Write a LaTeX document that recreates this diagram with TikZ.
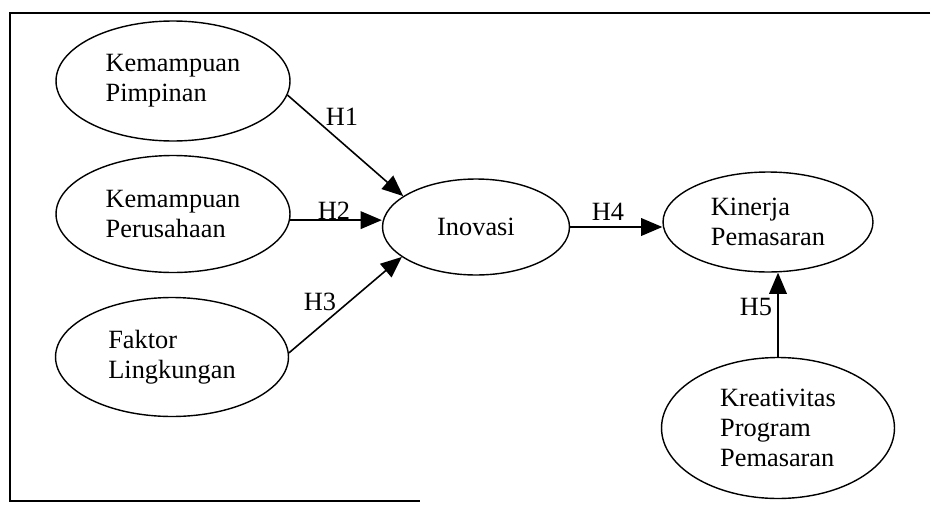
\documentclass[tikz,border=0pt]{standalone}
\usepackage{fontspec}
\setmainfont{Liberation Serif}
\usetikzlibrary{shapes.geometric, arrows.meta}

\begin{document}
\begin{tikzpicture}[x=0.02cm, y=-0.02cm,
    var/.style={ellipse, draw=black, line width=0.8pt, align=left, inner sep=0pt,
      font=\fontsize{15}{17}\selectfont},
    hyp/.style={inner sep=0pt, font=\fontsize{15}{17}\selectfont},
    arr/.style={line width=0.9pt, -{Triangle[length=12pt, width=10pt]}}]
  \useasboundingbox (0,0) rectangle (933,504);

  % Frame
  \draw[line width=0.8pt] (930,13) -- (10,13) -- (10,501) -- (420,501);

  % Independent variables
  \node[var, minimum width=4.68cm, minimum height=2.4cm] (pimpinan) at (173,81) {Kemampuan\\Pimpinan};
  \node[var, minimum width=4.68cm, minimum height=2.34cm] (perusahaan) at (173,214) {Kemampuan\\Perusahaan};
  \node[var, minimum width=4.66cm, minimum height=2.38cm] (lingkungan) at (172,357) {Faktor\\Lingkungan};

  % Mediating and dependent variables
  \node[var, minimum width=3.74cm, minimum height=1.92cm] (inovasi) at (476,227) {Inovasi};
  \node[var, minimum width=4.2cm, minimum height=2cm] (kinerja) at (768,222) {Kinerja\\Pemasaran};
  \node[var, minimum width=4.66cm, minimum height=2.82cm] (kreativitas) at (778,428) {Kreativitas\\Program\\Pemasaran};

  % Hypotheses
  \draw[arr] (pimpinan.-7) -- (inovasi.157);
  \draw[arr] (perusahaan.-3) -- (perusahaan.-3 -| inovasi.west);
  \draw[arr] (lingkungan.2) -- (inovasi.-158);
  \draw[arr] (inovasi.east) -- (inovasi.east -| kinerja.west);
  \draw[arr] (kreativitas.north) -- (kreativitas.north |- kinerja.south);

  % Labels
  \node[hyp] (h1) at (342,117) {H1};
  \node[hyp] (h2) at (334,211) {H2};
  \node[hyp] (h3) at (320,302) {H3};
  \node[hyp] (h4) at (608,212) {H4};
  \node[hyp] (h5) at (756,307) {H5};
\end{tikzpicture}
\end{document}
